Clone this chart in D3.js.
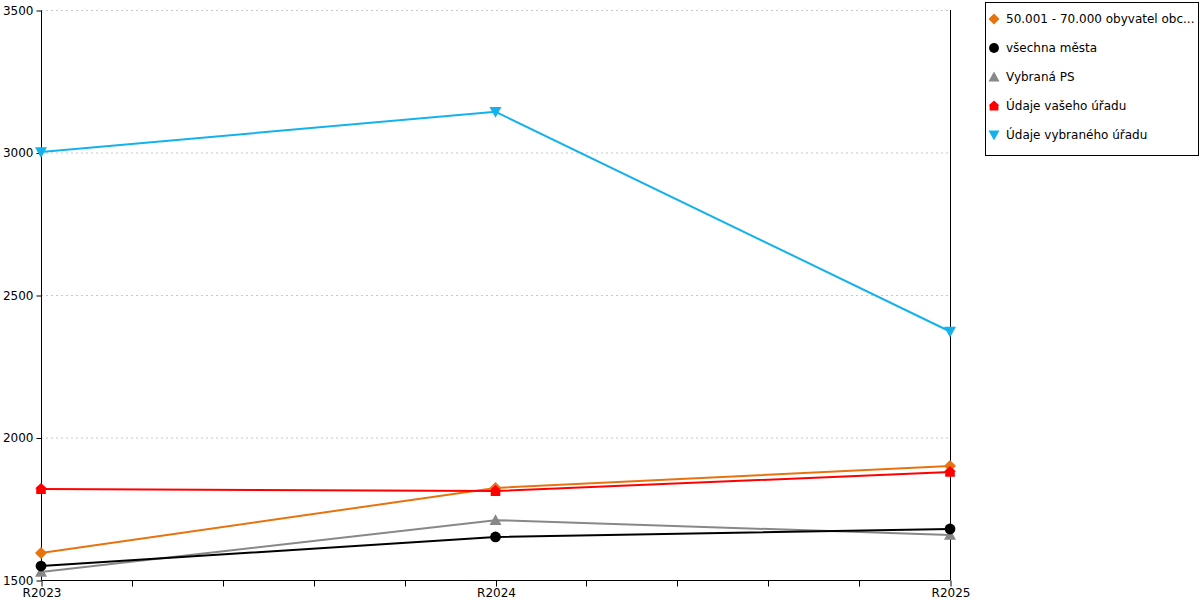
<!DOCTYPE html>
<html>
<head>
<meta charset="utf-8">
<script src="https://cdn.jsdelivr.net/npm/d3@7"></script>
<style>
  body { margin: 0; background: #fff; }
  svg { font-family: "DejaVu Sans", Verdana, sans-serif; }
</style>
</head>
<body>
<div id="chart"></div>
<script>
// data
const years = ['R2023', 'R2024', 'R2025']
const seriesNames = ['50.001 - 70.000 obyvatel obc...', 'všechna města', 'Vybraná PS',
  'Údaje vašeho úřadu', 'Údaje vybraného úřadu']
const orangeValues = [1595, 1823, 1900]
const blackValues = [1549, 1651, 1679]
const grayValues = [1528, 1710, 1658]
const redValues = [1819, 1812, 1879]
const blueValues = [3002, 3143, 2372]
const yTicks = [1500, 2000, 2500, 3000, 3500]

const colors = ['#e8730e', '#000000', '#888888', '#ff0000', '#14b2ec']
const shapes = ['diamond', 'circle', 'up', 'house', 'down']
const allValues = [orangeValues, blackValues, grayValues, redValues, blueValues]

const width = 1200, height = 600
const margin = {top: 10, right: 250, bottom: 20, left: 41}
const svg = d3.select('#chart').append('svg')
  .attr('width', width)
  .attr('height', height)

const x = d3.scalePoint().domain(years).range([margin.left, width - margin.right])
const y = d3.scaleLinear().domain([1500, 3500]).range([height - margin.bottom, margin.top])

// grid
svg.append('g')
  .selectAll('line')
  .data(yTicks.slice(1))
  .enter().append('line')
  .attr('x1', margin.left)
  .attr('x2', width - margin.right)
  .attr('y1', d => y(d) + 0.5)
  .attr('y2', d => y(d) + 0.5)
  .attr('stroke', '#c8c8c8')
  .attr('stroke-dasharray', '2,3')

// right border
svg.append('line')
  .attr('x1', x('R2025') + 0.5).attr('x2', x('R2025') + 0.5)
  .attr('y1', margin.top).attr('y2', height - margin.bottom)
  .attr('stroke', '#000')

// y axis
const yAxis = svg.append('g')
  .attr('transform', `translate(${margin.left + 0.5},0.5)`)
  .call(d3.axisLeft(y).tickValues(yTicks).tickSize(5).tickPadding(3).tickFormat(d3.format('d')))
yAxis.select('.domain').attr('d', `M0,${margin.top}V${height - margin.bottom}`)
yAxis.selectAll('text').attr('font-size', 12).attr('fill', '#000').attr('font-family', '"DejaVu Sans", sans-serif')

// x axis with minor ticks
const minor = []
for (let i = 0; i < years.length - 1; i++) {
  const a = x(years[i]), b = x(years[i + 1])
  for (let k = 1; k < 5; k++) minor.push(a + (b - a) * k / 5)
}
const xAxis = svg.append('g')
  .attr('transform', `translate(0.5,${height - margin.bottom + 0.5})`)
  .call(d3.axisBottom(x).tickSize(6).tickPadding(2))
xAxis.select('.domain').attr('d', `M${margin.left},0H${width - margin.right}`)
xAxis.selectAll('text').attr('font-size', 12).attr('fill', '#000').attr('font-family', '"DejaVu Sans", sans-serif')
xAxis.selectAll('.minor')
  .data(minor)
  .enter().append('line')
  .attr('class', 'minor')
  .attr('x1', d => Math.round(d)).attr('x2', d => Math.round(d))
  .attr('y1', 0).attr('y2', 6)
  .attr('stroke', '#000')

function markerPath(shape, s) {
  switch (shape) {
    case 'diamond': return `M0,${-s}L${s},0L0,${s}L${-s},0Z`
    case 'up': return `M0,${-s}L${s},${s * 0.8}L${-s},${s * 0.8}Z`
    case 'down': return `M0,${s}L${s},${-s * 0.8}L${-s},${-s * 0.8}Z`
    case 'house': return `M0,${-s}L${s},${-s * 0.1}L${s * 0.8},${-s * 0.1}L${s * 0.8},${s * 0.8}L${-s * 0.8},${s * 0.8}L${-s * 0.8},${-s * 0.1}L${-s},${-s * 0.1}Z`
  }
}
function drawMarker(g, shape, color, cx, cy, s) {
  if (shape === 'circle') {
    g.append('circle').attr('cx', cx).attr('cy', cy).attr('r', s * 0.9).attr('fill', color)
  } else {
    g.append('path').attr('d', markerPath(shape, s))
      .attr('transform', `translate(${cx},${cy})`).attr('fill', color)
  }
}

// lines
const line = d3.line().x((d, i) => x(years[i])).y(d => y(d))
const order = [2, 1, 0, 3, 4]
order.forEach(si => {
  svg.append('path')
    .datum(allValues[si])
    .attr('d', line)
    .attr('fill', 'none')
    .attr('stroke', colors[si])
    .attr('stroke-width', 2)
})
order.forEach(si => {
  const g = svg.append('g')
  allValues[si].forEach((v, i) => drawMarker(g, shapes[si], colors[si], x(years[i]), y(v), 6))
})

// legend
const lg = svg.append('g')
lg.append('rect')
  .attr('x', 985.5).attr('y', 2.5)
  .attr('width', 213).attr('height', 153)
  .attr('fill', '#fff').attr('stroke', '#000')
seriesNames.forEach((name, i) => {
  const cy = 19 + i * 29
  drawMarker(lg, shapes[i], colors[i], 994, cy, 5.5)
  lg.append('text')
    .attr('x', 1006).attr('y', cy + 4)
    .attr('font-size', 12)
    .attr('fill', '#000')
    .text(name)
})
</script>
</body>
</html>
